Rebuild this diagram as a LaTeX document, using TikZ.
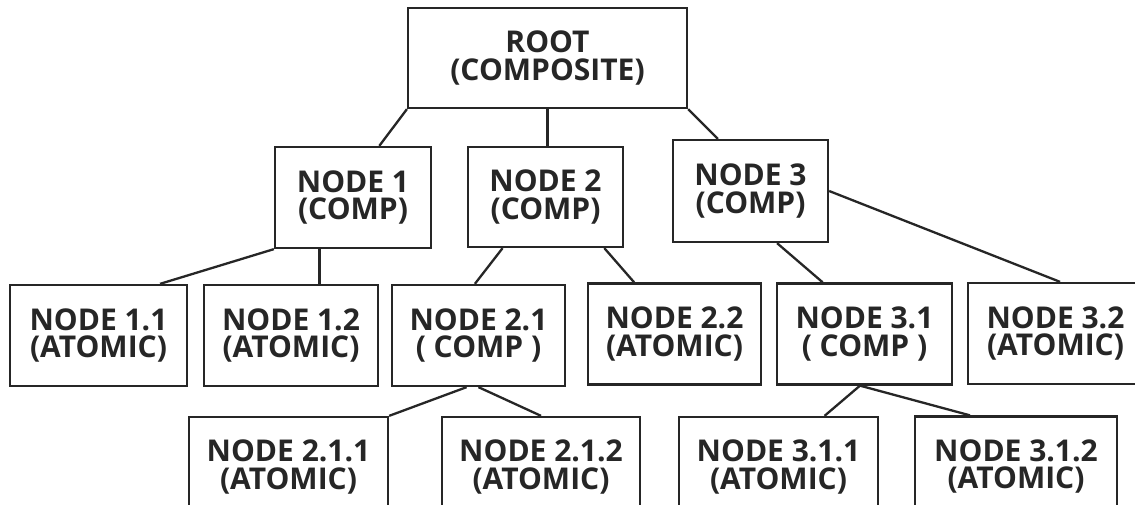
\documentclass[tikz,border=0pt]{standalone}
\usepackage{fontspec}
\setmainfont{Open Sans}
\usepackage{tikz}
\usetikzlibrary{positioning}

\begin{document}
\begin{tikzpicture}[x=1pt, y=-1pt,
  treenode/.style={rectangle, draw=black!85, line width=2.3pt, inner sep=0pt,
    minimum height=101pt, align=center, text=black!85,
    font=\fontsize{30}{27.5}\selectfont\bfseries},
  link/.style={line width=2.3pt, black!85},
]
\useasboundingbox[fill=white] (0,0) rectangle (1135,505);

% top two levels
\node[treenode, minimum width=279pt, minimum height=100pt] (root) at (547.5,58) {ROOT\\(COMPOSITE)};
\node[treenode, minimum width=156pt] (n1) at (353,197.5) {NODE 1\\(COMP)};
\node[treenode, minimum width=155pt, minimum height=100pt] (n2) at (545.5,197) {NODE 2\\(COMP)};
\node[treenode, minimum width=155pt, minimum height=102pt] (n3) at (750.5,191) {NODE 3\\(COMP)};

% third level
\node[treenode, minimum width=177pt] (n11) at (98.5,335.5) {NODE 1.1\\(ATOMIC)};
\node[treenode, minimum width=174pt] (n12) at (291,335.5) {NODE 1.2\\(ATOMIC)};
\node[treenode, minimum width=173pt] (n21) at (478.5,335.5) {NODE 2.1\\( COMP )};
\node[treenode, minimum width=173pt] (n22) at (674.5,334) {NODE 2.2\\(ATOMIC)};
\node[treenode, minimum width=175pt] (n31) at (864.5,334) {NODE 3.1\\( COMP )};
\node[treenode, minimum width=175pt] (n32) at (1055.5,333.5) {NODE 3.2\\(ATOMIC)};

% leaves (cut off by the page edge)
\node[treenode, minimum width=199pt, minimum height=100pt] (n211) at (288.5,467) {NODE 2.1.1\\(ATOMIC)};
\node[treenode, minimum width=198pt, minimum height=100pt] (n212) at (541,467) {NODE 2.1.2\\(ATOMIC)};
\node[treenode, minimum width=199pt, minimum height=100pt] (n311) at (778.5,467) {NODE 3.1.1\\(ATOMIC)};
\node[treenode, minimum width=202pt, minimum height=100pt] (n312) at (1016,466.5) {NODE 3.1.2\\(ATOMIC)};

\draw[link] (root.200) -- (n1.63);
\draw[link] (root.south) -- (root.south |- n2.north);
\draw[link] (root.south east) -- (n3.122);

\draw[link] (n1.south west) -- (n11.40);
\draw[link] (n1.237) -- (n1.237 |- n12.north);
\draw[link] (n2.230) -- (n21.94);
\draw[link] (n2.-41) -- (n22.128);
\draw[link] (n3.-63) -- (n31.129);
\draw[link] (n3.east) -- (n32.85);

\draw[link] (n21.257) -- (n211.north east);
\draw[link] (n21.south) -- (n212.north);
\draw[link] (n31.265) -- (n311.48);
\draw[link] (n31.265) -- (n312.132);

\end{tikzpicture}
\end{document}
